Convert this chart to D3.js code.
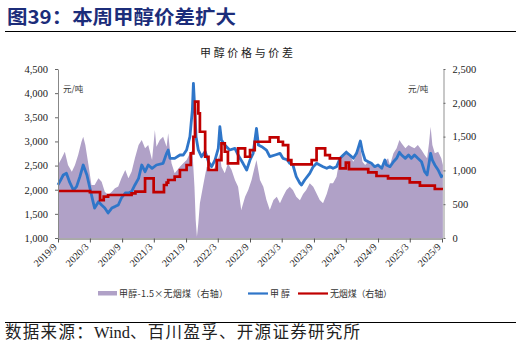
<!DOCTYPE html>
<html><head><meta charset="utf-8">
<script src="https://cdn.jsdelivr.net/npm/d3@7"></script>
<style>body{margin:0;background:#fff}</style></head>
<body><svg id="c" width="521" height="343"></svg>
<script>
const xTickLabels = ["2019/9","2020/3","2020/9","2021/3","2021/9","2022/3","2022/9","2023/3","2023/9","2024/3","2024/9","2025/3","2025/9"];
const leftTicks = [1000,1500,2000,2500,3000,3500,4000,4500];
const rightTicks = [0,500,1000,1500,2000,2500];

const methanolDates = ["2019-09-01","2019-09-16","2019-10-01","2019-10-19","2019-11-07","2019-11-28","2019-12-16","2020-01-04","2020-01-23","2020-02-13","2020-03-01","2020-03-19","2020-03-28","2020-04-19","2020-05-07","2020-05-25","2020-06-13","2020-07-04","2020-07-22","2020-08-10","2020-08-28","2020-09-19","2020-10-07","2020-10-25","2020-11-13","2020-12-04","2020-12-22","2021-01-10","2021-01-28","2021-02-19","2021-03-16","2021-04-23","2021-05-13","2021-05-22","2021-06-01","2021-06-28","2021-07-28","2021-08-16","2021-09-04","2021-09-23","2021-10-07","2021-10-13","2021-10-19","2021-10-28","2021-11-10","2021-11-28","2021-12-19","2022-01-07","2022-01-25","2022-02-13","2022-03-04","2022-03-13","2022-03-22","2022-04-10","2022-05-08","2022-06-07","2022-06-25","2022-07-23","2022-08-13","2022-09-01","2022-09-19","2022-10-08","2022-10-19","2022-11-07","2022-12-04","2022-12-23","2023-01-22","2023-02-19","2023-03-08","2023-04-01","2023-04-16","2023-05-04","2023-05-23","2023-06-13","2023-06-22","2023-07-10","2023-08-08","2023-08-28","2023-09-16","2023-10-04","2023-10-23","2023-11-13","2023-12-01","2023-12-19","2024-01-08","2024-01-28","2024-02-16","2024-03-04","2024-03-23","2024-04-13","2024-05-01","2024-05-10","2024-05-23","2024-06-04","2024-06-19","2024-07-07","2024-07-25","2024-08-13","2024-09-01","2024-09-22","2024-10-10","2024-10-19","2024-11-08","2024-11-28","2024-12-16","2025-01-01","2025-01-13","2025-02-04","2025-02-22","2025-03-10","2025-03-28","2025-04-16","2025-05-07","2025-05-25","2025-06-08","2025-06-19","2025-06-28","2025-07-08","2025-07-22","2025-08-10","2025-08-28","2025-09-06"];
const methanolValues = [2100,2200,2305,2340,2150,1990,2063,2270,2512,2305,2035,1752,1620,1752,1684,1620,1518,1620,1650,1684,1828,1932,1932,1960,2098,2236,2512,2373,2512,2443,2512,2547,2754,2822,2650,2650,2719,2719,2822,3098,3651,4204,3790,3098,2822,2684,2788,2580,2477,2615,2857,3305,3030,2926,2822,2857,2719,2547,2408,2615,2754,3271,2926,2891,2822,2684,2719,2754,2650,2620,2547,2512,2270,2133,2098,2201,2340,2477,2547,2512,2477,2443,2477,2443,2477,2650,2719,2775,2719,2650,2754,2857,3009,2788,2615,2580,2547,2477,2512,2443,2615,2512,2477,2580,2650,2775,2719,2650,2719,2650,2719,2650,2580,2373,2305,2547,2754,2615,2512,2408,2270,2305];

const coalDates = ["2019-09-01","2020-03-01","2020-04-28","2020-05-19","2020-06-13","2020-10-25","2020-11-16","2021-01-10","2021-02-28","2021-04-28","2021-05-13","2021-05-22","2021-06-28","2021-07-28","2021-09-04","2021-09-28","2021-10-13","2021-10-22","2021-11-10","2021-11-19","2021-12-19","2022-01-07","2022-02-23","2022-03-22","2022-04-10","2022-04-28","2022-06-25","2022-08-04","2022-09-01","2022-09-28","2022-12-23","2023-02-10","2023-03-08","2023-04-07","2023-04-25","2023-08-19","2023-09-16","2023-11-04","2023-12-01","2024-01-28","2024-03-01","2024-03-19","2024-07-07","2024-08-23","2024-10-28","2025-03-01","2025-04-28","2025-07-22","2025-09-06"];
const coalValues = [695,680,560,611,636,660,685,883,680,784,820,858,907,1006,1080,1252,1498,2016,1844,1572,1202,1006,1153,1400,1276,1104,1326,1202,1301,1424,1490,1424,1375,1153,1090,1153,1326,1227,1178,1030,1114,1020,971,917,883,823,774,725,720];

const spreadDates = ["2019-09-01","2019-09-22","2019-10-10","2019-10-28","2019-11-19","2019-12-07","2019-12-25","2020-01-13","2020-01-23","2020-02-04","2020-02-22","2020-03-10","2020-03-28","2020-04-19","2020-05-07","2020-05-25","2020-06-13","2020-07-04","2020-07-22","2020-08-10","2020-08-28","2020-09-19","2020-10-07","2020-10-25","2020-11-13","2020-12-04","2020-12-22","2021-01-10","2021-01-28","2021-02-19","2021-03-07","2021-03-16","2021-04-04","2021-04-23","2021-05-13","2021-05-22","2021-06-01","2021-06-10","2021-06-28","2021-07-28","2021-08-16","2021-09-04","2021-09-23","2021-10-07","2021-10-19","2021-10-26","2021-11-02","2021-11-10","2021-11-19","2021-12-10","2021-12-28","2022-01-16","2022-02-04","2022-02-23","2022-03-13","2022-03-22","2022-04-10","2022-04-28","2022-05-19","2022-06-07","2022-06-25","2022-07-13","2022-08-04","2022-08-22","2022-09-10","2022-09-28","2022-10-08","2022-10-28","2022-11-16","2022-12-04","2022-12-23","2023-01-13","2023-02-01","2023-02-19","2023-03-08","2023-03-28","2023-04-16","2023-05-04","2023-05-23","2023-06-13","2023-07-01","2023-07-19","2023-08-08","2023-08-28","2023-09-16","2023-10-04","2023-10-23","2023-11-13","2023-12-01","2023-12-19","2024-01-08","2024-01-28","2024-02-16","2024-03-04","2024-03-23","2024-04-13","2024-05-01","2024-05-19","2024-05-28","2024-06-04","2024-06-19","2024-07-07","2024-07-25","2024-08-13","2024-09-01","2024-09-22","2024-10-10","2024-10-28","2024-11-08","2024-11-28","2024-12-16","2025-01-01","2025-01-13","2025-02-04","2025-02-22","2025-03-10","2025-03-28","2025-04-16","2025-05-07","2025-05-25","2025-06-08","2025-06-19","2025-06-28","2025-07-08","2025-07-22","2025-08-10","2025-08-28","2025-09-06"];
const spreadValues = [1080,1178,1277,1080,981,1080,1227,1424,1498,1375,1080,784,784,883,833,685,636,685,735,760,883,1006,883,981,1178,1375,1449,1326,1375,1153,1597,1350,1449,1498,1350,1548,1301,1104,957,1055,1104,1153,1252,1301,759,266,20,217,513,809,1055,1030,1006,1104,1252,1055,957,1104,1006,858,759,414,611,710,858,1055,1153,858,759,562,414,562,611,513,611,710,759,710,611,560,650,710,809,759,660,562,513,650,809,809,907,1202,1252,1301,1227,1128,1227,1375,1252,1128,1080,1128,1080,1080,1080,1055,1128,1178,1080,1252,1326,1449,1400,1326,1375,1350,1326,1375,1301,1227,1178,1400,1646,1375,1252,1276,1178,1080];

const svg = d3.select("#c");
const parse = d3.timeParse("%Y-%m-%d");
const parseTick = d3.timeParse("%Y/%m");
const serif = "'Liberation Serif','Times New Roman',serif";
const cjk = "'Noto Sans CJK SC','Liberation Serif',serif";

const x = d3.scaleTime().domain([parse("2019-09-01"), parse("2025-09-01")]).range([58, 442]);
const yL = d3.scaleLinear().domain([1000, 4500]).range([238, 69]);
const yR = d3.scaleLinear().domain([0, 2500]).range([238, 69]);

// header
svg.append("text").attr("x", 7).attr("y", 24).attr("font-family", cjk).attr("font-weight", "bold")
  .attr("font-size", 19).attr("fill", "#1c2d7a").attr("textLength", 229).attr("lengthAdjust", "spacingAndGlyphs")
  .text("图39：本周甲醇价差扩大");
svg.append("line").attr("x1", 5).attr("x2", 516).attr("y1", 31.5).attr("y2", 31.5).attr("stroke", "#000").attr("stroke-width", 1.2);
svg.append("text").attr("x", 200).attr("y", 57).attr("font-family", cjk).attr("font-size", 11)
  .attr("fill", "#222").attr("textLength", 93).attr("lengthAdjust", "spacing").text("甲醇价格与价差");

// spread area
const spread = spreadDates.map((d, i) => ({ d: parse(d), v: spreadValues[i] }));
svg.append("path").datum(spread)
  .attr("d", d3.area().x(p => x(p.d)).y0(yR(0)).y1(p => yR(p.v)))
  .attr("fill", "#b0a1c7");

// methanol
const meth = methanolDates.map((d, i) => ({ d: parse(d), v: methanolValues[i] }));
svg.append("path").datum(meth)
  .attr("d", d3.line().x(p => x(p.d)).y(p => yL(p.v)))
  .attr("fill", "none").attr("stroke", "#2f76c9").attr("stroke-width", 2.8).attr("stroke-linejoin", "round");

// coal
const coal = coalDates.map((d, i) => ({ d: parse(d), v: coalValues[i] }));
svg.append("path").datum(coal)
  .attr("d", d3.line().x(p => x(p.d)).y(p => yR(p.v)).curve(d3.curveStepAfter))
  .attr("fill", "none").attr("stroke", "#c00000").attr("stroke-width", 2.7);

// axes
const gx = svg.append("g").attr("transform", "translate(0,238.5)")
  .call(d3.axisBottom(x).tickValues(xTickLabels.map(s => parseTick(s))).tickFormat((d, i) => xTickLabels[i]).tickSize(4).tickSizeOuter(0));
gx.select(".domain").attr("stroke", "#555");
gx.selectAll(".tick line").attr("stroke", "#555");
gx.selectAll("text").attr("font-family", serif).attr("font-size", 10).attr("fill", "#222")
  .attr("text-anchor", "end").attr("dy", 0).attr("y", 0)
  .attr("transform", "translate(-1,9) rotate(-45)");

const gl = svg.append("g").attr("transform", "translate(58,0)")
  .call(d3.axisLeft(yL).tickValues(leftTicks).tickFormat(d3.format(",")).tickSize(3).tickSizeOuter(0).tickPadding(7));
gl.select(".domain").attr("stroke", "#888");
gl.selectAll(".tick line").attr("stroke", "#666");
gl.selectAll("text").attr("font-family", serif).attr("font-size", 10.5).attr("fill", "#222");

const gr = svg.append("g").attr("transform", "translate(443.5,0)")
  .call(d3.axisRight(yR).tickValues(rightTicks).tickFormat(d3.format(",")).tickSize(2).tickSizeOuter(0).tickPadding(7));
gr.select(".domain").attr("stroke", "#c8c8c8").attr("stroke-width", 2);
gr.selectAll(".tick line").attr("stroke", "#666");
gr.selectAll("text").attr("font-family", serif).attr("font-size", 10.5).attr("fill", "#222");

// unit labels
svg.append("text").attr("x", 63).attr("y", 92).attr("font-family", cjk).attr("font-size", 8.5).attr("fill", "#333").text("元/吨");
svg.append("text").attr("x", 408).attr("y", 92).attr("font-family", cjk).attr("font-size", 8.5).attr("fill", "#333").text("元/吨");

// legend
const lg = svg.append("g");
lg.append("rect").attr("x", 98).attr("y", 291).attr("width", 19).attr("height", 4.5).attr("fill", "#b0a1c7");
lg.append("text").attr("x", 119).attr("y", 296.5).attr("font-family", cjk).attr("font-size", 9).attr("fill", "#333")
  .attr("textLength", 109).attr("lengthAdjust", "spacing").text("甲醇-1.5×无烟煤（右轴）");
lg.append("line").attr("x1", 248).attr("x2", 268).attr("y1", 293.5).attr("y2", 293.5).attr("stroke", "#2f76c9").attr("stroke-width", 2.2);
lg.append("text").attr("x", 270).attr("y", 296.5).attr("font-family", cjk).attr("font-size", 9).attr("fill", "#333")
  .attr("textLength", 20).attr("lengthAdjust", "spacing").text("甲醇");
lg.append("line").attr("x1", 298).attr("x2", 328).attr("y1", 293.5).attr("y2", 293.5).attr("stroke", "#c00000").attr("stroke-width", 2.2);
lg.append("text").attr("x", 330).attr("y", 296.5).attr("font-family", cjk).attr("font-size", 9).attr("fill", "#333")
  .attr("textLength", 62).attr("lengthAdjust", "spacing").text("无烟煤（右轴）");

// footer
svg.append("line").attr("x1", 5).attr("x2", 516).attr("y1", 322.5).attr("y2", 322.5).attr("stroke", "#000").attr("stroke-width", 1.2);
const ft = svg.append("text").attr("x", 5).attr("y", 338).attr("font-size", 16.5).attr("fill", "#222");
ft.append("tspan").attr("font-family", cjk).attr("letter-spacing", 1.3).text("数据来源：");
ft.append("tspan").attr("font-family", serif).attr("letter-spacing", 0).text("Wind");
ft.append("tspan").attr("font-family", cjk).attr("letter-spacing", 1.3).text("、百川盈孚、开源证券研究所");
</script></body></html>
